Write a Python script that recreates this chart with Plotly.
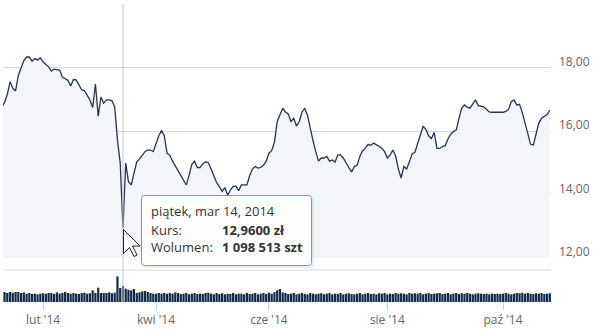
import pandas as pd
import plotly.graph_objects as go

# ---------------- data ----------------
holidays = ["2014-04-18", "2014-04-21", "2014-05-01", "2014-06-19", "2014-08-15"]
dates = [d for d in pd.bdate_range("2014-01-13", "2014-10-24") if d.strftime("%Y-%m-%d") not in holidays]

price = [
    16.75, 16.90, 17.15, 17.55, 17.35, 17.26, 17.75, 17.98, 18.22, 18.33, 18.33, 18.20, 18.28, 18.24, 18.30,
    18.17, 18.10, 18.02, 17.89, 17.95, 17.93, 17.92, 17.70, 17.66, 17.60, 17.42, 17.62, 17.61, 17.45, 17.30,
    17.27, 17.10, 16.98, 16.74, 17.48, 16.47, 17.07, 16.88, 16.98, 16.98, 16.95, 16.76, 15.72, 14.99, 12.96,
    14.99, 14.40, 14.30, 14.65, 15.03, 15.12, 15.25, 15.35, 15.40, 15.40, 15.35, 15.60, 15.85, 16.01, 15.85,
    15.30, 15.24, 15.05, 14.90, 14.78, 14.60, 14.45, 14.30, 14.60, 14.95, 15.05, 14.85, 14.85, 14.97, 15.03,
    15.00, 14.80, 14.55, 14.37, 14.25, 14.10, 14.22, 13.98, 14.14, 14.25, 14.27, 14.12, 14.30, 14.30, 14.30,
    14.60, 14.80, 14.88, 14.83, 14.85, 14.92, 15.05, 15.30, 15.38, 15.65, 16.30, 16.50, 16.72, 16.60, 16.54,
    16.30, 16.40, 16.16, 16.29, 16.60, 16.71, 16.50, 16.05, 15.70, 15.35, 15.05, 15.15, 15.15, 15.20, 15.05,
    15.09, 15.02, 15.25, 15.25, 15.15, 15.02, 14.85, 14.71, 14.88, 14.92, 15.20, 15.38, 15.46, 15.58, 15.55,
    15.62, 15.58, 15.52, 15.46, 15.35, 15.15, 15.25, 15.40, 15.22, 14.80, 14.52, 14.88, 14.80, 15.03, 15.28,
    15.33, 15.60, 15.85, 16.15, 16.05, 15.85, 15.76, 15.95, 15.45, 15.45, 15.51, 15.54, 15.75, 15.90, 15.98,
    16.03, 16.40, 16.72, 16.82, 16.75, 16.72, 16.85, 16.98, 16.80, 16.77, 16.76, 16.68, 16.60, 16.59, 16.59,
    16.59, 16.59, 16.59, 16.62, 16.68, 16.92, 16.98, 16.82, 16.84, 16.58, 16.22, 15.85, 15.58, 15.56, 15.95,
    16.25, 16.40, 16.46, 16.52, 16.66,
]

volume = [
    618000, 687000, 618000, 687000, 640000, 687000, 687000, 618000, 660000, 572000, 618000, 550000, 572000, 529000, 572000,
    600000, 572000, 618000, 618000, 550000, 660000, 572000, 618000, 687000, 618000, 572000, 618000, 572000, 550000, 618000,
    640000, 572000, 600000, 804000, 618000, 982000, 618000, 618000, 618000, 660000, 600000, 640000, 1766000, 962000, 1098513,
    914000, 845000, 804000, 893000, 618000, 660000, 735000, 756000, 687000, 618000, 572000, 572000, 618000, 572000, 618000,
    572000, 618000, 572000, 660000, 618000, 550000, 572000, 618000, 529000, 572000, 618000, 550000, 572000, 550000, 618000,
    640000, 572000, 529000, 618000, 550000, 600000, 529000, 572000, 550000, 618000, 529000, 572000, 572000, 529000, 618000,
    550000, 572000, 618000, 529000, 572000, 618000, 550000, 640000, 572000, 687000, 804000, 893000, 660000, 618000, 550000,
    572000, 618000, 529000, 572000, 618000, 550000, 529000, 618000, 572000, 529000, 572000, 600000, 529000, 572000, 618000,
    529000, 572000, 550000, 618000, 529000, 572000, 600000, 550000, 529000, 572000, 618000, 529000, 572000, 618000, 550000,
    572000, 529000, 600000, 572000, 618000, 529000, 572000, 550000, 618000, 572000, 600000, 572000, 529000, 618000, 572000,
    600000, 572000, 618000, 529000, 572000, 618000, 550000, 572000, 600000, 618000, 550000, 572000, 618000, 529000, 572000,
    618000, 550000, 600000, 572000, 618000, 572000, 529000, 572000, 600000, 572000, 550000, 572000, 529000, 572000, 550000,
    572000, 550000, 572000, 618000, 572000, 529000, 572000, 618000, 600000, 640000, 572000, 618000, 572000, 550000, 600000,
    572000, 618000, 550000, 572000, 600000,
]

tick_dates = ["2014-02-03", "2014-04-01", "2014-06-02", "2014-08-01", "2014-10-01"]
tick_labels = ["lut '14", "kwi '14", "cze '14", "sie '14", "paź '14"]
price_ticks = [12, 14, 16, 18, 20]
price_tick_labels = ["12,00", "14,00", "16,00", "18,00", ""]

hover_date = "2014-03-14"
tooltip_title = "piątek, mar 14, 2014"
tooltip_rows = [("Kurs:", "12,9600 zł"), ("Wolumen:", "1 098 513 szt")]

# ---------------- layout helpers (pixel -> paper) ----------------
W, H = 596, 332
L, R, T, B = 3, 551, 4, 302


def px(x):
    return (x - L) / (R - L)


def py(y):
    return (B - y) / (B - T)


LINE = "#26354f"
BAR = "#112a4c"
FONT = "Open Sans"

fig = go.Figure()
fig.add_trace(go.Scatter(
    x=dates, y=price, mode="lines", line=dict(color=LINE, width=1.3),
    fill="tozeroy", fillcolor="#f3f5f8", xaxis="x", yaxis="y", hoverinfo="skip"))
fig.add_trace(go.Bar(
    x=dates, y=volume, marker=dict(color=BAR, line=dict(width=0)),
    xaxis="x", yaxis="y2", hoverinfo="skip"))

fig.update_layout(
    width=W, height=H, margin=dict(l=L, r=W - R, t=T, b=H - B),
    paper_bgcolor="white", plot_bgcolor="white", showlegend=False, bargap=0.2,
    font=dict(family=FONT, size=12, color="#666666"),
    xaxis=dict(
        type="date", anchor="y2",
        range=["2014-01-13 10:30", "2014-10-24 10:00"],
        rangebreaks=[dict(bounds=["sat", "mon"]), dict(values=holidays)],
        tickvals=tick_dates, ticktext=tick_labels,
        ticks="outside", ticklen=7, tickcolor="#c8d0d8", tickwidth=1,
        showgrid=False, zeroline=False, showline=False,
        tickfont=dict(family=FONT, size=12, color="#666666"),
    ),
    yaxis=dict(
        domain=[py(258), 1], range=[12, 20], side="right",
        tickvals=price_ticks, ticktext=price_tick_labels,
        showgrid=True, gridcolor="#d9d9d9", gridwidth=1, zeroline=False,
        ticks="", ticklabelstandoff=7, ticklabelshift=-6,
        tickfont=dict(family=FONT, size=12, color="#666666"),
    ),
    yaxis2=dict(
        domain=[0, py(270)], range=[0, 2200000], showgrid=False,
        showticklabels=False, zeroline=False, ticks="",
    ),
)

shapes = []
# volume pane top border
shapes.append(dict(type="line", xref="paper", yref="paper", x0=0, x1=1, y0=py(270), y1=py(270),
                   line=dict(color="#d9d9d9", width=1)))
# crosshair
shapes.append(dict(type="line", xref="x", yref="paper", x0=hover_date, x1=hover_date, y0=py(302), y1=1,
                   line=dict(color="#c4c4c4", width=1), layer="above"))


def rounded_rect(x0, y0, x1, y1, r):
    pts = [
        f"M {px(x0 + r)},{py(y0)}", f"L {px(x1 - r)},{py(y0)}", f"Q {px(x1)},{py(y0)} {px(x1)},{py(y0 + r)}",
        f"L {px(x1)},{py(y1 - r)}", f"Q {px(x1)},{py(y1)} {px(x1 - r)},{py(y1)}",
        f"L {px(x0 + r)},{py(y1)}", f"Q {px(x0)},{py(y1)} {px(x0)},{py(y1 - r)}",
        f"L {px(x0)},{py(y0 + r)}", f"Q {px(x0)},{py(y0)} {px(x0 + r)},{py(y0)}", "Z",
    ]
    return " ".join(pts)


# tooltip shadow + box
shapes.append(dict(type="path", xref="paper", yref="paper", path=rounded_rect(143, 197, 314, 268, 3),
                   fillcolor="rgba(0,0,0,0.07)", line=dict(width=0), layer="above"))
shapes.append(dict(type="path", xref="paper", yref="paper", path=rounded_rect(141.5, 195.5, 311.5, 265.5, 3),
                   fillcolor="rgba(255,255,255,0.95)", line=dict(color="#57a3d6", width=1), layer="above"))

# mouse cursor
cur = [(0, 0), (0, 24), (6, 18), (10.5, 27), (13.5, 25.5), (9, 16.5), (16.5, 16.5)]
tx, ty = 123.5, 229.5
cpath = "M " + " L ".join(f"{px(tx + a)},{py(ty + b)}" for a, b in cur) + " Z"
shapes.append(dict(type="path", xref="paper", yref="paper", path=cpath,
                   fillcolor="white", line=dict(color="#222222", width=1), layer="above"))

fig.update_layout(shapes=shapes)

ann = []
ann.append(dict(text=tooltip_title, x=px(149), y=py(211), xref="paper", yref="paper",
                xanchor="left", yanchor="middle", showarrow=False,
                font=dict(family=FONT, size=13, color="#333333")))
for i, (lab, val) in enumerate(tooltip_rows):
    yy = py(229.5 + i * 17.5)
    ann.append(dict(text=lab, x=px(149), y=yy, xref="paper", yref="paper",
                    xanchor="left", yanchor="middle", showarrow=False,
                    font=dict(family=FONT, size=13, color="#333333")))
    ann.append(dict(text=f"<b>{val}</b>", x=px(220), y=yy, xref="paper", yref="paper",
                    xanchor="left", yanchor="middle", showarrow=False,
                    font=dict(family=FONT, size=13, color="#333333")))
fig.update_layout(annotations=ann)

fig.write_html("out.html")
